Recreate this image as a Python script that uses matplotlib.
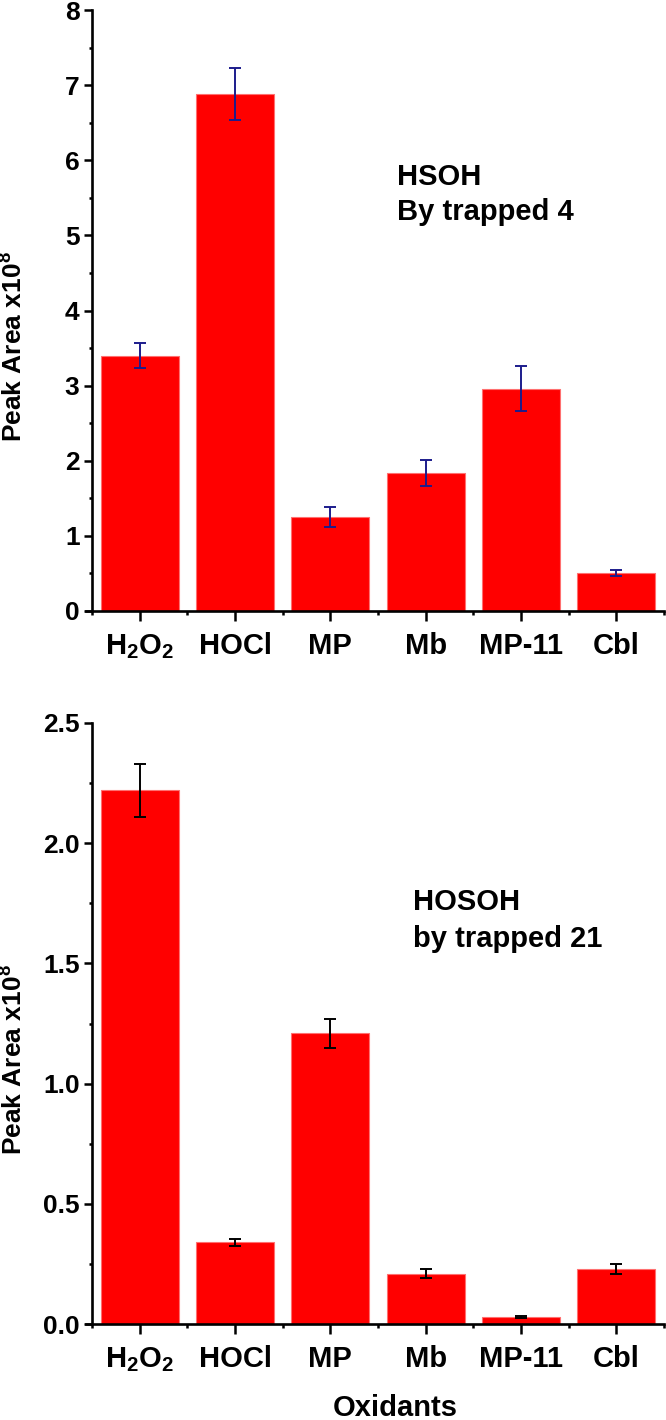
import matplotlib
matplotlib.use('Agg')
import matplotlib.pyplot as plt
from matplotlib.ticker import MultipleLocator, FixedLocator, FormatStrFormatter

plt.rcParams['font.family'] = ['Liberation Sans', 'DejaVu Sans']
plt.rcParams['mathtext.default'] = 'regular'

categories = ['H$_2$O$_2$', 'HOCl', 'MP', 'Mb', 'MP-11', 'Cbl']
hsoh_values = [3.40, 6.88, 1.25, 1.84, 2.96, 0.50]
hsoh_errors = [0.17, 0.35, 0.13, 0.17, 0.30, 0.04]
hosoh_values = [2.22, 0.34, 1.21, 0.21, 0.03, 0.23]
hosoh_errors = [0.11, 0.015, 0.06, 0.02, 0.004, 0.02]

W, H = 666, 1420
fig = plt.figure(figsize=(W / 100, H / 100), dpi=100)

x_left_px, x_right_px = 92, 664
ppu = (x_right_px - x_left_px) / 6.0
xmin = -0.56
ax_left_px = x_left_px - (-0.5 - xmin) * ppu
ax_w_px = x_right_px - ax_left_px


def make_axes(top_px, bottom_px):
    return fig.add_axes([ax_left_px / W, 1 - bottom_px / H,
                         ax_w_px / W, (bottom_px - top_px) / H])


ax1 = make_axes(10, 611)
ax2 = make_axes(723, 1324)

xs = list(range(len(categories)))


def style(ax, ymax, major, minor, fmt, values, errors, ecolor):
    ax.bar(xs, values, width=0.82, color='#ff0000', edgecolor='#ff7070',
           linewidth=0.8, zorder=2)
    ax.errorbar(xs, values, yerr=errors, fmt='none', ecolor=ecolor,
                elinewidth=1.4, capsize=4.5, capthick=1.4, zorder=3)
    ax.set_xlim(xmin, 5.5)
    ax.set_ylim(0, ymax)
    for s in ['top', 'right']:
        ax.spines[s].set_visible(False)
    for s in ['left', 'bottom']:
        ax.spines[s].set_linewidth(1.9)
    ax.spines['left'].set_position(('data', -0.5))
    ax.yaxis.set_major_locator(MultipleLocator(major))
    ax.yaxis.set_minor_locator(MultipleLocator(minor))
    ax.yaxis.set_major_formatter(FormatStrFormatter(fmt))
    ax.xaxis.set_major_locator(FixedLocator(xs))
    ax.xaxis.set_minor_locator(FixedLocator([i - 0.5 for i in range(7)]))
    ax.set_xticklabels(categories)
    ax.tick_params(axis='y', which='major', length=6, width=1.8, direction='out',
                   labelsize=19, pad=3)
    ax.tick_params(axis='y', which='minor', length=2.5, width=1.8, direction='out')
    ax.tick_params(axis='x', which='major', length=7, width=1.8, direction='out',
                   labelsize=21, pad=8)
    ax.tick_params(axis='x', which='minor', length=3, width=1.8, direction='out')
    for lab in ax.get_yticklabels() + ax.get_xticklabels():
        lab.set_fontweight('bold')
    ax.set_ylabel('Peak Area x10$^8$', fontsize=19, fontweight='bold')


style(ax1, 8, 1, 0.5, '%d', hsoh_values, hsoh_errors, '#1c1c8c')
style(ax2, 2.5, 0.5, 0.25, '%.1f', hosoh_values, hosoh_errors, '#000000')

label_x = (28 - ax_left_px) / ax_w_px
ax1.yaxis.set_label_coords(label_x, 0.44)
ax2.yaxis.set_label_coords(label_x, 0.44)

fig.text(397 / W, 1 - 185 / H, 'HSOH', fontsize=21, fontweight='bold', va='baseline')
fig.text(397 / W, 1 - 220 / H, 'By trapped 4', fontsize=21, fontweight='bold', va='baseline')
fig.text(413 / W, 1 - 910 / H, 'HOSOH', fontsize=21, fontweight='bold', va='baseline')
fig.text(413 / W, 1 - 947 / H, 'by trapped 21', fontsize=21, fontweight='bold', va='baseline')

fig.text(395 / W, 1 - 1408 / H, 'Oxidants', fontsize=21, fontweight='bold',
         ha='center', va='center')

fig.savefig('out.png', dpi=100)
